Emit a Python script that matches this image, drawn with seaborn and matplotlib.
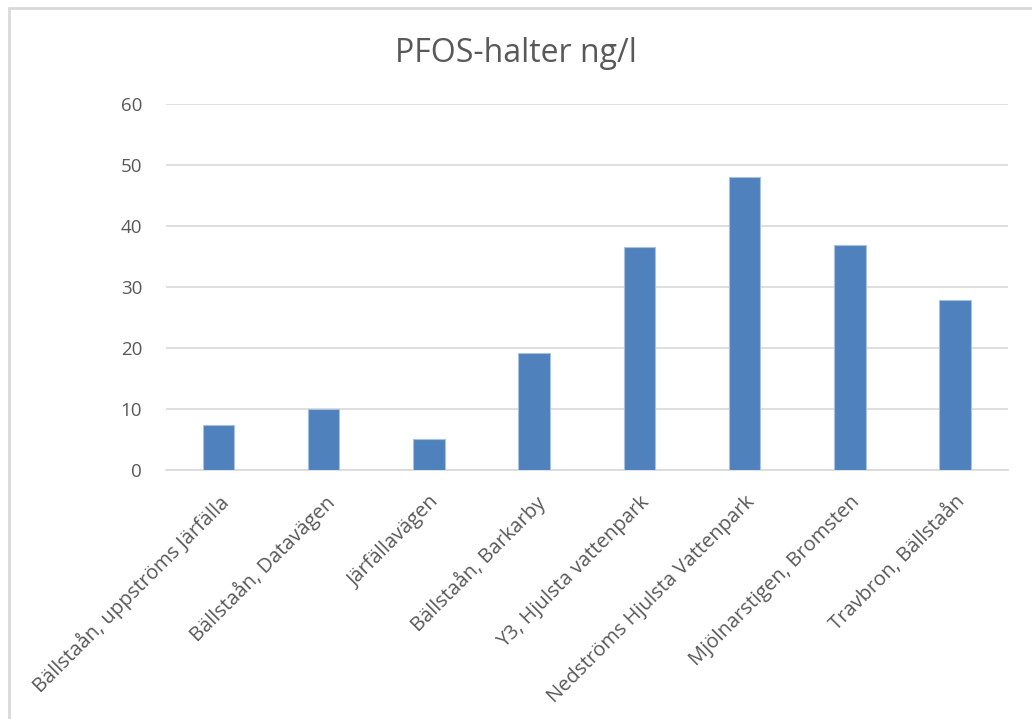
import matplotlib
matplotlib.use("Agg")
import matplotlib.pyplot as plt
import seaborn as sns
import pandas as pd
from matplotlib.lines import Line2D

sites = [
    "Bällstaån, uppströms Järfälla",
    "Bällstaån, Datavägen",
    "Järfällavägen",
    "Bällstaån, Barkarby",
    "Y3, Hjulsta vattenpark",
    "Nedströms Hjulsta Vattenpark",
    "Mjölnarstigen, Bromsten",
    "Travbron, Bällstaån",
]
pfos = [7.4, 9.9, 5.0, 19.2, 36.5, 47.9, 36.9, 27.9]
yticks = [0, 10, 20, 30, 40, 50, 60]
title = "PFOS-halter ng/l"

df = pd.DataFrame({"site": sites, "pfos": pfos})

sns.set_theme(style="white")
plt.rcParams["font.family"] = ["Open Sans", "DejaVu Sans"]

text_color = "#595959"
grid_color = "#D9D9D9"
bar_color = "#4F81BD"

fig = plt.figure(figsize=(10.32, 7.19), dpi=100)
ax = fig.add_axes([0.1606, 0.3467, 0.8159, 0.5091])

sns.barplot(data=df, x="site", y="pfos", color=bar_color, width=0.3,
            saturation=1, edgecolor="#A9C0DE", linewidth=0.8, ax=ax, zorder=3)

ax.set_ylim(0, 60)
ax.set_xlim(-0.5, len(sites) - 0.5)
ax.set_yticks(yticks)
ax.set_yticklabels([str(v) for v in yticks])
ax.yaxis.grid(True, color=grid_color, linewidth=1.2, zorder=0)
ax.set_axisbelow(True)
for side in ["left", "right", "top"]:
    ax.spines[side].set_visible(False)
ax.spines["bottom"].set_color(grid_color)
ax.spines["bottom"].set_linewidth(1.2)
ax.tick_params(axis="y", length=0, labelsize=13.5, colors=text_color, pad=17)
ax.tick_params(axis="x", length=0, labelsize=14.5, colors=text_color, pad=16)
ax.set_xlabel("")
ax.set_ylabel("")

for lbl in ax.get_xticklabels():
    lbl.set_rotation(45)
    lbl.set_ha("right")
    lbl.set_va("top")
    lbl.set_rotation_mode("anchor")

fig.suptitle(title, y=0.948, fontsize=23, color=text_color)

# chart frame (left and top edges)
fig.add_artist(Line2D([0.0085, 0.0085], [0.0, 0.9895], transform=fig.transFigure,
                      color="#D9D9D9", linewidth=2))
fig.add_artist(Line2D([0.0085, 1.0], [0.9895, 0.9895], transform=fig.transFigure,
                      color="#D9D9D9", linewidth=2))

fig.savefig("out.png", dpi=100)
